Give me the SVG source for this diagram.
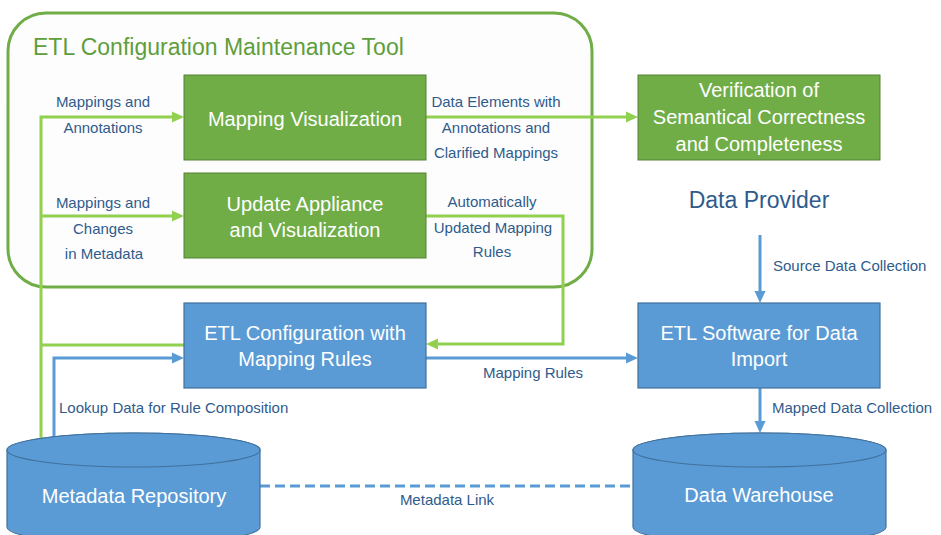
<svg xmlns="http://www.w3.org/2000/svg" width="941" height="535" viewBox="0 0 941 535">
<style>
  text { font-family: "Liberation Sans", Arial, sans-serif; }
  .gbox { fill: #70ad47; stroke: #548235; stroke-width: 1; }
  .bbox { fill: #5b9bd5; stroke: #41719c; stroke-width: 1.2; }
  .big { font-size: 20px; fill: #ffffff; text-anchor: middle; }
  .lbl { font-size: 15px; fill: #2f5b8c; }
  .mid { text-anchor: middle; }
  .gline { fill: none; stroke: #92d050; stroke-width: 3; }
  .bline { fill: none; stroke: #5b9bd5; stroke-width: 3; }
</style>
<defs>
  <marker id="ga" markerUnits="userSpaceOnUse" markerWidth="12" markerHeight="12" viewBox="0 0 12 12" refX="2" refY="6" orient="auto">
    <path d="M0,0.5 L12,6 L0,11.5 Z" fill="#92d050"/>
  </marker>
  <marker id="ba" markerUnits="userSpaceOnUse" markerWidth="12" markerHeight="12" viewBox="0 0 12 12" refX="2" refY="6" orient="auto">
    <path d="M0,0.5 L12,6 L0,11.5 Z" fill="#5b9bd5"/>
  </marker>
</defs>
<rect width="941" height="535" fill="#ffffff"/>

<g id="tool">
  <rect x="8" y="13" width="584" height="274" rx="38" ry="38" fill="#fdfdfd" stroke="#70ad47" stroke-width="3"/>
  <text x="33" y="55" font-size="23" fill="#5e9e3c">ETL Configuration Maintenance Tool</text>
</g>

<g id="connectors">
  <path class="gline" d="M41,438 L41,117 L174,117" marker-end="url(#ga)"/>
  <path class="gline" d="M41,216 L174,216" marker-end="url(#ga)"/>
  <path class="gline" d="M41,345 L184,345"/>
  <path class="gline" d="M426,117 L628,117" marker-end="url(#ga)"/>
  <path class="gline" d="M426,216 L563,216 L563,344 L436,344" marker-end="url(#ga)"/>
  <path class="bline" d="M54,437 L54,358 L174,358" marker-end="url(#ba)"/>
  <path class="bline" d="M426,358 L628,358" marker-end="url(#ba)"/>
  <path class="bline" d="M760,235 L760,293" marker-end="url(#ba)"/>
  <path class="bline" d="M760,388 L760,423" marker-end="url(#ba)"/>
  <path class="bline" d="M260,486 L633,486" stroke-dasharray="10 5"/>
  <text class="lbl mid" x="103" y="107">Mappings and</text>
  <text class="lbl mid" x="103" y="133">Annotations</text>
  <text class="lbl mid" x="103" y="208">Mappings and</text>
  <text class="lbl mid" x="103" y="234">Changes</text>
  <text class="lbl mid" x="104" y="259">in Metadata</text>
  <text class="lbl mid" x="496" y="107">Data Elements with</text>
  <text class="lbl mid" x="496" y="133">Annotations and</text>
  <text class="lbl mid" x="496" y="158">Clarified Mappings</text>
  <text class="lbl mid" x="492" y="207">Automatically</text>
  <text class="lbl mid" x="493" y="233">Updated Mapping</text>
  <text class="lbl mid" x="492" y="257">Rules</text>
  <text class="lbl" x="773" y="271">Source Data Collection</text>
  <text class="lbl" x="772" y="413">Mapped Data Collection</text>
  <text class="lbl mid" x="533" y="378">Mapping Rules</text>
  <text class="lbl" x="59" y="413">Lookup Data for Rule Composition</text>
  <text class="lbl mid" x="447" y="505">Metadata Link</text>
</g>

<g id="mapping-visualization">
  <rect class="gbox" x="184" y="75" width="242" height="85"/>
  <text class="big" x="305" y="126">Mapping Visualization</text>
</g>

<g id="update-appliance">
  <rect class="gbox" x="184" y="173" width="242" height="85"/>
  <text class="big" x="305" y="211">Update Appliance</text>
  <text class="big" x="305" y="237">and Visualization</text>
</g>

<g id="verification">
  <rect class="gbox" x="638" y="75" width="242" height="85"/>
  <text class="big" x="759" y="97">Verification of</text>
  <text class="big" x="759" y="124">Semantical Correctness</text>
  <text class="big" x="759" y="151">and Completeness</text>
</g>

<g id="data-provider">
  <text x="759" y="208" font-size="23" fill="#2f5b8c" text-anchor="middle">Data Provider</text>
</g>

<g id="etl-configuration">
  <rect class="bbox" x="184" y="303" width="242" height="85"/>
  <text class="big" x="305" y="340">ETL Configuration with</text>
  <text class="big" x="305" y="366">Mapping Rules</text>
</g>

<g id="etl-software">
  <rect class="bbox" x="638" y="303" width="242" height="85"/>
  <text class="big" x="759" y="340">ETL Software for Data</text>
  <text class="big" x="759" y="366">Import</text>
</g>

<g id="metadata-repository">
  <path class="bbox" d="M7,450 L7,527 A126.5,17 0 0 0 260,527 L260,450 A126.5,17 0 0 0 7,450 Z"/>
  <ellipse class="bbox" cx="133.5" cy="450" rx="126.5" ry="17"/>
  <text class="big" x="134" y="503">Metadata Repository</text>
</g>

<g id="data-warehouse">
  <path class="bbox" d="M633,450 L633,527 A126.5,17 0 0 0 886,527 L886,450 A126.5,17 0 0 0 633,450 Z"/>
  <ellipse class="bbox" cx="759.5" cy="450" rx="126.5" ry="17"/>
  <text class="big" x="759" y="502">Data Warehouse</text>
</g>
</svg>
